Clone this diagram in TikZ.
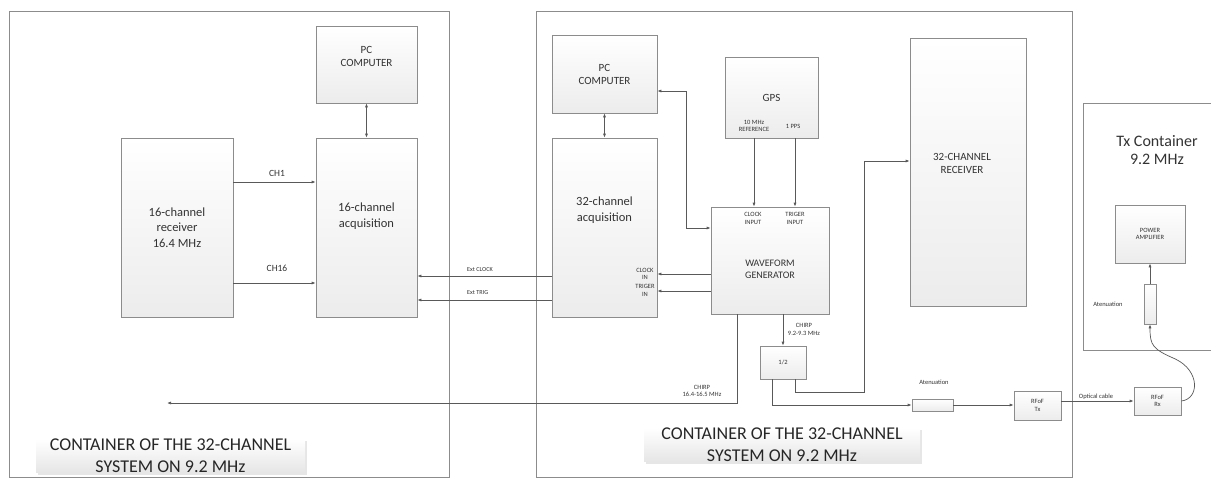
\documentclass[tikz,border=0pt]{standalone}
\usepackage{fontspec}
\setmainfont{Carlito}
\usetikzlibrary{arrows.meta, shadows}

\definecolor{boxline}{HTML}{8C8C8C}
\definecolor{boxfill}{HTML}{ECECEC}
\definecolor{wire}{HTML}{595959}
\definecolor{frame}{HTML}{8C8C8C}
\definecolor{txt}{HTML}{333333}

\begin{document}
\begin{tikzpicture}[
    x=1pt, y=-1pt,
    box/.style={draw=boxline, line width=0.7pt, top color=white, bottom color=boxfill, align=center, inner sep=1pt, text=txt},
    cont/.style={draw=frame, line width=1pt},
    plate/.style={top color=white, bottom color=black!10, text=black!85, align=center, inner xsep=2pt, inner ysep=0pt, font=\fontsize{18}{22}\selectfont, drop shadow={opacity=0.2, shadow xshift=2pt, shadow yshift=-2pt}},
    lbl/.style={text=txt, align=center, inner sep=0pt, font=\fontsize{6.5}{7.5}\selectfont},
    bigtxt/.style={text=txt, align=center, font=\fontsize{12.5}{15.7}\selectfont},
    midtxt/.style={text=txt, align=center, font=\fontsize{11}{13}\selectfont},
    arr/.style={draw=wire, line width=0.7pt, -{Latex[length=4pt, width=3pt]}},
    darr/.style={arr, {Latex[length=4pt, width=3pt]}-{Latex[length=4pt, width=3pt]}}
]
\useasboundingbox (0,0) rectangle (1211,480);

% containers
\node[cont, minimum width=440pt, minimum height=466pt] (contL) at (229,244) {};
\node[cont, minimum width=536pt, minimum height=466pt] (contM) at (804,244) {};
\draw[cont] (1211,103) -| (1083,350) -- (1211,350);
\node[plate, minimum width=269pt] (plateL) at (170.5,456) {CONTAINER OF THE 32-CHANNEL\\SYSTEM ON 9.2 MHz};
\node[plate, minimum width=276pt] (plateM) at (782,445) {CONTAINER OF THE 32-CHANNEL\\SYSTEM ON 9.2 MHz};
\node[text=txt, align=center, font=\fontsize{16}{18}\selectfont] (txtitle) at (1157,150.5) {Tx Container\\9.2 MHz};

% 16-channel system
\node[box, midtxt, minimum width=101pt, minimum height=77pt,
      label={[midtxt, yshift=8pt]center:{PC\\COMPUTER}}] (pcL) at (366.5,64.5) {};
\node[box, minimum width=101pt, minimum height=179pt,
      label={[bigtxt, yshift=11pt]center:{16-channel\\acquisition}}] (acqL) at (366.5,227.5) {};
\node[box, bigtxt, minimum width=112pt, minimum height=179pt] (rcvL) at (177,227.5) {16-channel\\receiver\\16.4 MHz};

% 32-channel system
\node[box, midtxt, minimum width=105pt, minimum height=78pt] (pcM) at (604.5,74) {PC\\COMPUTER};
\node[box, minimum width=105pt, minimum height=179pt,
      label={[bigtxt, yshift=17.5pt]center:{32-channel\\acquisition}}] (acqM) at (604.5,227.5) {};
\node[box, midtxt, minimum width=93pt, minimum height=81pt] (gps) at (771.5,97.5) {GPS};
\node[box, minimum width=118pt, minimum height=107pt,
      label={[text=txt, align=center, font=\fontsize{10}{12}\selectfont, yshift=-8.5pt]center:{WAVEFORM\\GENERATOR}}] (wfg) at (770,260.5) {};
\node[box, lbl, minimum width=46pt, minimum height=33pt] (half) at (783,362.5) {1/2};
\node[box, minimum width=116pt, minimum height=268pt,
      label={[midtxt, yshift=8.5pt, xshift=-6pt]center:{32-CHANNEL\\RECEIVER}}] (rcvM) at (968,172) {};
\node[box, minimum width=41pt, minimum height=12pt] (attH) at (932.5,405) {};
\node[box, lbl, minimum width=47pt, minimum height=29pt] (rftx) at (1037.5,405.5) {RFoF\\Tx};

% Tx container
\node[box, lbl, minimum width=47pt, minimum height=28pt] (rfrx) at (1157.5,401) {RFoF\\Rx};
\node[box, minimum width=12pt, minimum height=40pt] (attV) at (1150,304) {};
\node[box, lbl, minimum width=70pt, minimum height=58pt] (pa) at (1150,234) {POWER\\AMPLIFIER};

% port labels
\node[lbl] (gpsref) at (754,126) {10 MHz\\REFERENCE};
\node[lbl] (gpspps) at (793,126) {1 PPS};
\node[lbl] (wfgclk) at (753,218.5) {CLOCK\\INPUT};
\node[lbl] (wfgtrg) at (795,218.5) {TRIGER\\INPUT};
\node[lbl] (acqclk) at (645,274) {CLOCK\\IN};
\node[lbl] (acqtrg) at (645,290.5) {TRIGER\\IN};
\node[lbl, font=\fontsize{9.5}{11}\selectfont] (ch1) at (277,173) {CH1};
\node[lbl, font=\fontsize{9.5}{11}\selectfont] (ch16) at (277,268) {CH16};
\node[lbl, anchor=west, font=\fontsize{6.2}{7}\selectfont] (extclk) at (467,270) {Ext CLOCK};
\node[lbl, anchor=west, font=\fontsize{6.2}{7}\selectfont] (exttrg) at (467,293) {Ext TRIG};
\node[lbl] (chirpA) at (804,329.5) {CHIRP\\9.2-9.3 MHz};
\node[lbl] (chirpB) at (702,391) {CHIRP\\16.4-16.5 MHz};
\node[lbl] (attlblH) at (934,382) {Atenuation};
\node[lbl] (attlblV) at (1108,304) {Atenuation};
\node[lbl] (optlbl) at (1096,397) {Optical cable};

\coordinate (chirpend) at (167,403);

% connectors
\draw[darr] (pcL) -- (acqL);
\draw[arr] ([yshift=45.5pt]rcvL.east) -- ([yshift=45.5pt]acqL.west);
\draw[arr] ([yshift=-55.5pt]rcvL.east) -- ([yshift=-55.5pt]acqL.west);
\draw[arr] ([yshift=-48.5pt]acqM.west) -- ([yshift=-48.5pt]acqL.east);
\draw[arr] ([yshift=-72.5pt]acqM.west) -- ([yshift=-72.5pt]acqL.east);
\draw[darr] (pcM) -- (acqM);
\draw[darr] ([yshift=-17pt]pcM.east) -- ++(29,0) |- ([yshift=32.5pt]wfg.west);
\draw[arr] ([xshift=-17.5pt]gps.south) -- ([xshift=-16pt]wfg.north);
\draw[arr] ([xshift=23.5pt]gps.south) -- ([xshift=25pt]wfg.north);
\draw[arr] ([yshift=-13.5pt]wfg.west) -- ([yshift=-46.5pt]acqM.east);
\draw[arr] ([yshift=-30.5pt]wfg.west) -- ([yshift=-63.5pt]acqM.east);
\draw[arr] ([xshift=13pt]wfg.south) -- (half.north);
\draw[arr] ([xshift=-33pt]wfg.south) |- (chirpend);
\draw[arr] ([xshift=12pt]half.south) -- ++(0,13) -- ++(69,0) |- ([yshift=11pt]rcvM.west);
\draw[arr] ([xshift=-11pt]half.south) |- (attH.west);
\draw[arr] (attH.east) -- (attH.east -| rftx.west);
\draw[arr] (rftx.east |- rfrx.west) -- (rfrx.west);
\draw[arr] (rfrx.east) .. controls +(18,-2) and +(25,12) .. ++(-6,-42) .. controls +(-23,-10) and +(0,21) .. (attV.south);
\draw[arr] (attV.north) -- (pa.south);
\end{tikzpicture}
\end{document}
